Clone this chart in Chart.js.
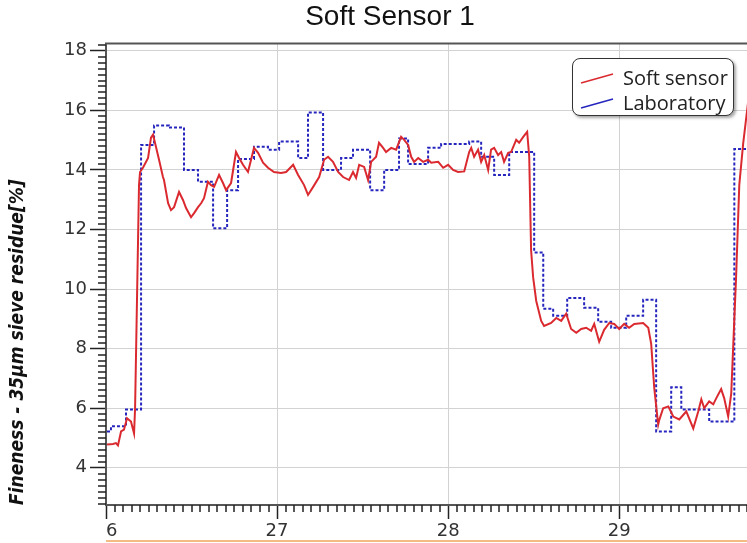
<!DOCTYPE html>
<html>
<head>
<meta charset="utf-8">
<title>Soft Sensor 1</title>
<script src="https://cdn.jsdelivr.net/npm/chart.js@4.4.1/dist/chart.umd.min.js"></script>
<style>
  html, body { margin: 0; padding: 0; background: #fff; overflow: hidden; }
  #wrap { position: relative; width: 780px; height: 543px; }
  #legend {
    position: absolute; left: 572px; top: 58px; width: 160px; height: 56px;
    border: 1.5px solid #333; border-radius: 8px; background: #fff;
    box-shadow: 2px 2px 3px rgba(0,0,0,0.35);
    font-family: 'Open Sans', sans-serif; font-size: 20px; color: #222;
  }
  .item { position: absolute; left: 0; height: 24px; line-height: 24px; white-space: nowrap; }
  .item svg { position: absolute; left: 7px; top: 6px; }
  .item span { position: absolute; left: 50px; top: 0; }
</style>
</head>
<body>
<div id="wrap">
  <canvas id="myChart" width="780" height="543"></canvas>
  <div id="legend"></div>
</div>
<script>
// x axis: days, y axis: residue in %
const xTicks = [26, 27, 28, 29]
const xTickLabels = ['\u20076', '27', '28', '29']
const yTicks = [4, 6, 8, 10, 12, 14, 16, 18]

const seriesNames = ['Soft sensor', 'Laboratory']
const seriesColors = ['rgb(218,42,48)', 'rgb(38,38,190)']

// soft sensor (red line)
const softX = [26.006, 26.041, 26.058, 26.070, 26.088, 26.105, 26.123, 26.146, 26.164, 26.170,
  26.193, 26.199, 26.216, 26.246, 26.263, 26.275, 26.292, 26.310, 26.333, 26.339,
  26.363, 26.380, 26.398, 26.427, 26.450, 26.468, 26.497, 26.515, 26.538, 26.556,
  26.573, 26.596, 26.614, 26.632, 26.661, 26.684, 26.702, 26.731, 26.760, 26.778,
  26.801, 26.830, 26.848, 26.865, 26.889, 26.918, 26.947, 26.982, 27.023, 27.053,
  27.094, 27.123, 27.158, 27.181, 27.211, 27.246, 27.275, 27.298, 27.327, 27.357,
  27.386, 27.421, 27.444, 27.462, 27.480, 27.509, 27.532, 27.550, 27.579, 27.596,
  27.620, 27.637, 27.667, 27.696, 27.725, 27.743, 27.766, 27.784, 27.801, 27.825,
  27.854, 27.883, 27.901, 27.942, 27.971, 28.000, 28.029, 28.058, 28.094, 28.123,
  28.135, 28.152, 28.175, 28.193, 28.211, 28.234, 28.251, 28.269, 28.292, 28.310,
  28.327, 28.351, 28.368, 28.398, 28.415, 28.439, 28.462, 28.474, 28.485, 28.497,
  28.515, 28.544, 28.561, 28.602, 28.632, 28.661, 28.690, 28.719, 28.749, 28.778,
  28.807, 28.836, 28.854, 28.883, 28.912, 28.942, 28.971, 29.000, 29.029, 29.058,
  29.088, 29.140, 29.170, 29.187, 29.205, 29.228, 29.234, 29.257, 29.287, 29.316,
  29.351, 29.392, 29.433, 29.462, 29.480, 29.497, 29.526, 29.550, 29.567, 29.596,
  29.614, 29.637, 29.655, 29.684, 29.702, 29.725, 29.754]
const softY = [4.78, 4.80, 4.83, 4.75, 5.22, 5.28, 5.66, 5.55, 5.15, 6.00,
  13.50, 13.93, 14.07, 14.40, 15.08, 15.18, 14.78, 14.34, 13.76, 13.66,
  12.88, 12.65, 12.75, 13.26, 12.99, 12.72, 12.41, 12.55, 12.75, 12.88,
  13.05, 13.60, 13.49, 13.43, 13.83, 13.56, 13.32, 13.56, 14.60, 14.40,
  14.17, 13.93, 14.34, 14.74, 14.57, 14.24, 14.07, 13.93, 13.90, 13.93,
  14.17, 13.83, 13.49, 13.16, 13.43, 13.76, 14.34, 14.44, 14.27, 13.93,
  13.76, 13.66, 13.93, 13.73, 14.17, 14.10, 13.66, 14.27, 14.44, 14.91,
  14.74, 14.60, 14.74, 14.68, 15.11, 15.01, 14.84, 14.44, 14.27, 14.40,
  14.27, 14.34, 14.24, 14.27, 14.07, 14.17, 14.00, 13.93, 13.95, 14.60,
  14.74, 14.44, 14.68, 14.27, 14.50, 14.00, 14.68, 14.74, 14.50, 14.60,
  14.27, 14.57, 14.60, 15.01, 14.91, 15.11, 15.28, 14.44, 11.30, 10.39,
  9.60, 8.93, 8.76, 8.86, 9.03, 8.93, 9.17, 8.66, 8.53, 8.66,
  8.70, 8.60, 8.83, 8.23, 8.63, 8.86, 8.83, 8.66, 8.83, 8.70,
  8.83, 8.86, 8.70, 8.16, 6.67, 5.45, 5.60, 6.00, 6.06, 5.72,
  5.62, 5.89, 5.32, 5.89, 6.30, 6.00, 6.23, 6.13, 6.33, 6.64,
  6.33, 5.72, 6.50, 10.50, 13.50, 14.90, 16.30]

// laboratory samples (blue step line), each value holds until the next x
const labX = [26.006, 26.029, 26.117, 26.205, 26.281, 26.368, 26.456, 26.538, 26.626, 26.708,
  26.772, 26.865, 26.947, 27.012, 27.123, 27.181, 27.269, 27.374, 27.444, 27.544,
  27.626, 27.713, 27.766, 27.883, 27.959, 28.123, 28.193, 28.269, 28.357, 28.503,
  28.556, 28.614, 28.696, 28.795, 28.877, 28.953, 29.041, 29.140, 29.216, 29.304,
  29.363, 29.526, 29.673, 29.754]
const labY = [5.22, 5.39, 5.96, 14.84, 15.49, 15.42, 14.00, 13.60, 12.04, 13.32,
  14.37, 14.78, 14.68, 14.95, 14.40, 15.93, 14.00, 14.40, 14.68, 13.32,
  14.00, 15.05, 14.20, 14.74, 14.87, 14.95, 14.44, 13.83, 14.60, 11.23,
  9.34, 9.10, 9.70, 9.37, 8.90, 8.70, 9.10, 9.64, 5.22, 6.70,
  5.96, 5.55, 14.70, 14.70]

function toPoints(xs, ys) {
  return xs.map(function (x, i) { return {x: x, y: ys[i]} })
}

// frame top, minor ticks and the orange strip at the bottom
const extras = {
  id: 'extras',
  afterDraw(chart) {
    const ctx = chart.ctx
    const area = chart.chartArea
    const x = chart.scales.x
    const y = chart.scales.y
    ctx.save()
    ctx.strokeStyle = '#222'
    ctx.lineWidth = 1.5
    ctx.beginPath()
    for (let i = Math.ceil(y.min * 5); i <= Math.floor(y.max * 5); i++) {
      if (i % 10 === 0) continue
      const py = Math.round(y.getPixelForValue(i / 5))
      ctx.moveTo(area.left - 8, py)
      ctx.lineTo(area.left, py)
    }
    for (let i = Math.ceil(x.min * 20); i <= Math.floor(x.max * 20); i++) {
      if (i % 20 === 0) continue
      const px = Math.round(x.getPixelForValue(i / 20))
      ctx.moveTo(px, area.bottom)
      ctx.lineTo(px, area.bottom + 7)
    }
    ctx.stroke()

    ctx.strokeStyle = '#555'
    ctx.lineWidth = 2
    ctx.beginPath()
    ctx.moveTo(area.left - 1, area.top)
    ctx.lineTo(area.right, area.top)
    ctx.stroke()

    ctx.strokeStyle = '#f2a55c'
    ctx.lineWidth = 1.5
    ctx.beginPath()
    ctx.moveTo(area.left, chart.height - 2)
    ctx.lineTo(chart.width, chart.height - 2)
    ctx.stroke()
    ctx.restore()
  }
}

const ctx = document.getElementById('myChart').getContext('2d')
const chart = new Chart(ctx, {
  type: 'line',
  data: {
    datasets: [{
      label: seriesNames[0],
      data: toPoints(softX, softY),
      borderColor: seriesColors[0],
      borderWidth: 2,
      pointRadius: 0,
      tension: 0
    }, {
      label: seriesNames[1],
      data: toPoints(labX, labY),
      borderColor: seriesColors[1],
      borderWidth: 2,
      borderDash: [3, 2],
      pointRadius: 0,
      stepped: true
    }]
  },
  options: {
    responsive: false,
    animation: false,
    layout: { padding: 0 },
    plugins: {
      legend: { display: false },
      tooltip: { enabled: false },
      title: {
        display: true,
        text: 'Soft Sensor 1',
        color: '#111',
        font: { family: "'Liberation Sans', Arial, sans-serif", size: 28, weight: 'normal' },
        padding: { top: 0, bottom: 10 }
      }
    },
    scales: {
      x: {
        type: 'linear',
        min: 26,
        max: 29.94,
        afterFit: function (scale) { scale.height = 38 },
        afterBuildTicks: function (scale) {
          scale.ticks = xTicks.map(function (v) { return {value: v} })
        },
        ticks: {
          color: '#333',
          padding: 2,
          maxRotation: 0,
          font: { family: "'DejaVu Sans', sans-serif", size: 18 },
          callback: function (value) { return xTickLabels[xTicks.indexOf(value)] }
        },
        grid: { color: '#d2d2d2', tickColor: '#222', tickLength: 14, tickWidth: 1.5 },
        border: { color: '#555', width: 2 }
      },
      y: {
        type: 'linear',
        min: 2.75,
        max: 18.24,
        afterFit: function (scale) { scale.width = 106 },
        afterBuildTicks: function (scale) {
          scale.ticks = yTicks.map(function (v) { return {value: v} })
        },
        ticks: {
          color: '#333',
          padding: 3,
          font: { family: "'DejaVu Sans', sans-serif", size: 18 }
        },
        grid: { color: '#d2d2d2', tickColor: '#222', tickLength: 16, tickWidth: 1.5 },
        border: { color: '#555', width: 2 },
        title: {
          display: true,
          text: 'Fineness - 35\u03bcm sieve residue[%]',
          align: 'start',
          color: '#111',
          padding: { top: 7, bottom: 0 },
          font: { family: "'DejaVu Sans Condensed', 'Liberation Sans Narrow', 'Noto Sans', sans-serif", size: 19, weight: 'bold', style: 'italic' }
        }
      }
    }
  },
  plugins: [extras]
})

// legend drawn as html so it can float inside the plot
function buildLegend() {
  const box = document.getElementById('legend')
  chart.data.datasets.forEach(function (ds, i) {
    const row = document.createElement('div')
    row.className = 'item'
    row.style.top = (7 + i * 25) + 'px'
    row.innerHTML = '<svg width="34" height="12"><line x1="1" y1="11" x2="33" y2="2" stroke="' +
      ds.borderColor + '" stroke-width="1.6"/></svg><span>' + ds.label + '</span>'
    box.appendChild(row)
  })
}
buildLegend()
</script>
</body>
</html>
